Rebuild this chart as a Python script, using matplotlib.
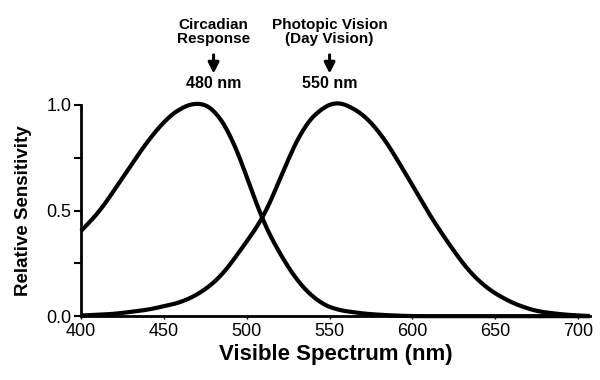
import matplotlib.pyplot as plt
import numpy as np

# ---- data ----
circ_nm = [400, 411, 425, 440, 452, 460, 468, 474, 480, 490, 500, 509, 520, 532, 544, 554, 570, 585, 600, 650, 707]
circ_val = [0.405, 0.495, 0.657, 0.83, 0.94, 0.985, 1.01, 1.005, 0.98, 0.86, 0.657, 0.457, 0.29, 0.148, 0.062, 0.03, 0.012, 0.004, 0.0, 0.0, 0.0]

phot_nm = [400, 419, 440, 460, 472, 484, 494, 509, 516, 524, 534, 544, 552, 556, 570, 582, 596, 610, 622, 634, 646, 660, 674, 690, 707]
phot_val = [0.003, 0.01, 0.03, 0.065, 0.11, 0.186, 0.29, 0.457, 0.576, 0.73, 0.895, 0.98, 1.01, 1.015, 0.957, 0.85, 0.67, 0.48, 0.338, 0.21, 0.124, 0.062, 0.024, 0.008, 0.0]

peaks = [480, 550]
peak_titles = ["Circadian\nResponse", "Photopic Vision\n(Day Vision)"]
peak_labels = ["480 nm", "550 nm"]

x_ticks = [400, 450, 500, 550, 600, 650, 700]
y_ticks = [0.0, 0.25, 0.5, 0.75, 1.0]
y_ticklabels = ["0.0", "", "0.5", "", "1.0"]

plt.rcParams["font.family"] = ["Liberation Sans", "DejaVu Sans"]


def smooth(xs, ys, n=600, win=24):
    # linear resample, then moving-average to take the corners off (drawing only)
    xf = np.linspace(xs[0], xs[-1], n)
    yf = np.interp(xf, xs, ys)
    pad = win
    yp = np.concatenate([yf[0] + (yf[0] - yf[1]) * np.arange(pad, 0, -1), yf,
                         np.full(pad, yf[-1])])
    k = np.ones(win) / win
    ys2 = np.convolve(yp, k, mode="same")[pad:-pad]
    return xf, np.clip(ys2, 0, None)


fig = plt.figure(figsize=(6, 3.8), dpi=100)
ax = fig.add_axes([0.135, 0.168, 0.848, 0.556])

for xs, ys in [(circ_nm, circ_val), (phot_nm, phot_val)]:
    xf, yf = smooth(xs, ys)
    ax.plot(xf, yf, color="black", lw=3, clip_on=False, solid_capstyle="butt")

ax.set_xlim(400, 707)
ax.set_ylim(0, 1.0)
ax.set_xticks(x_ticks)
ax.set_yticks(y_ticks)
ax.set_yticklabels(y_ticklabels)
for s in ["top", "right"]:
    ax.spines[s].set_visible(False)
for s in ["left", "bottom"]:
    ax.spines[s].set_linewidth(2)
ax.tick_params(axis="y", direction="out", length=5, width=1.5, labelsize=13, pad=2)
ax.tick_params(axis="x", direction="out", length=2, width=1, labelsize=13, pad=3)

ax.set_xlabel("Visible Spectrum (nm)", fontsize=16, fontweight="bold", labelpad=3)
ax.set_ylabel("Relative Sensitivity", fontsize=13.5, fontweight="bold", labelpad=10)

for px, title, lab in zip(peaks, peak_titles, peak_labels):
    ax.annotate("", xy=(px, 1.135), xytext=(px, 1.25),
                arrowprops=dict(arrowstyle="-|>", lw=2.2, color="black", mutation_scale=16),
                annotation_clip=False)
    ax.text(px, 1.10, lab, ha="center", va="center", fontsize=11.5, fontweight="bold")
    ax.text(px, 1.28, title, ha="center", va="bottom", fontsize=11, fontweight="bold",
            linespacing=0.95)

fig.savefig("out.png", dpi=100)
